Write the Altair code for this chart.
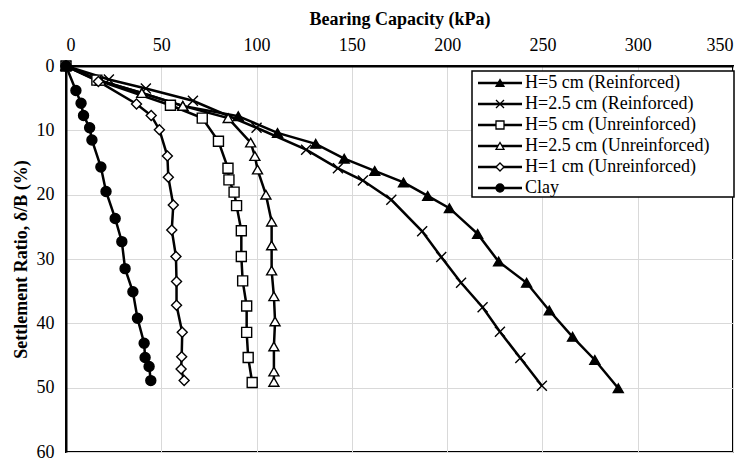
import altair as alt
import pandas as pd

# ---- data ----
series_names = [
    "H=5 cm (Reinforced)",
    "H=2.5 cm (Reinforced)",
    "H=5 cm (Unreinforced)",
    "H=2.5 cm (Unreinforced)",
    "H=1 cm (Unreinforced)",
    "Clay",
]

h5r_x = [0, 18.0, 39.8, 61.3, 90.4, 111.0, 131.0, 146.0, 162.0, 177.1, 189.8, 201.2, 216.0, 227.0, 241.7, 253.6, 265.8, 277.5, 289.8]
h5r_y = [0, 2.3, 4.2, 6.2, 7.8, 10.4, 12.1, 14.4, 16.3, 18.1, 20.2, 22.1, 26.1, 30.4, 33.7, 38.0, 42.1, 45.7, 50.1]

h25r_x = [0, 22.5, 41.9, 66.6, 100.0, 126.0, 142.7, 155.8, 170.7, 186.9, 196.9, 207.3, 218.6, 227.7, 238.4, 249.7]
h25r_y = [0, 2.1, 3.5, 5.4, 9.6, 13.0, 15.9, 17.8, 20.8, 25.7, 29.7, 33.7, 37.5, 41.3, 45.4, 49.7]

h5u_x = [0, 16.2, 54.8, 71.5, 80.0, 85.0, 85.5, 88.2, 89.5, 92.0, 92.0, 92.7, 94.8, 94.8, 95.6, 97.7]
h5u_y = [0, 2.2, 6.1, 8.1, 11.7, 15.9, 17.7, 19.6, 21.7, 25.6, 29.6, 33.4, 37.3, 41.4, 45.3, 49.2]

h25u_x = [0, 18.0, 39.8, 61.3, 85.1, 96.9, 99.1, 100.5, 104.9, 107.9, 107.9, 107.9, 109.1, 109.7, 109.1, 109.1, 109.1]
h25u_y = [0, 2.3, 4.2, 6.2, 8.1, 11.9, 14.0, 16.1, 20.0, 24.2, 27.9, 31.8, 35.8, 39.7, 43.6, 47.5, 49.1]

h1u_x = [0, 17.0, 37.0, 44.7, 49.0, 53.2, 53.7, 56.3, 55.5, 57.7, 58.0, 58.0, 61.0, 60.7, 60.4, 62.0]
h1u_y = [0, 2.4, 5.9, 7.7, 9.9, 14.0, 17.3, 21.6, 25.5, 29.6, 33.5, 37.2, 41.4, 45.2, 47.1, 48.9]

clay_x = [0, 5.2, 7.9, 9.2, 12.4, 13.6, 18.3, 21.0, 25.8, 29.3, 31.0, 35.1, 37.5, 41.0, 41.5, 43.6, 44.5]
clay_y = [0, 3.8, 5.8, 7.7, 9.6, 11.5, 15.7, 19.5, 23.7, 27.3, 31.5, 35.1, 39.2, 43.1, 45.3, 46.7, 48.9]

x_ticks = [0, 50, 100, 150, 200, 250, 300, 350]
y_ticks = [0, 10, 20, 30, 40, 50, 60]

# ---- styling ----
FONT = "'Liberation Serif', 'Times New Roman', Times, serif"
cross_path = "M-1,-1L1,1M-1,1L1,-1"
shape_range = ["triangle-up", cross_path, "square", "triangle-up", "diamond", "circle"]
fill_range = ["black", "white", "white", "white", "white", "black"]

all_x = [h5r_x, h25r_x, h5u_x, h25u_x, h1u_x, clay_x]
all_y = [h5r_y, h25r_y, h5u_y, h25u_y, h1u_y, clay_y]

rows = []
for s, xs, ys in zip(series_names, all_x, all_y):
    for i, (xv, yv) in enumerate(zip(xs, ys)):
        rows.append({"series": s, "q": xv, "r": yv, "idx": i})
df = pd.DataFrame(rows)

x_enc = alt.X("q:Q", scale=alt.Scale(domain=[0, 350], nice=False),
              axis=alt.Axis(orient="top", values=x_ticks, title="Bearing Capacity (kPa)"))
y_enc = alt.Y("r:Q", scale=alt.Scale(domain=[0, 60], reverse=True, nice=False),
              axis=alt.Axis(values=y_ticks, title="Settlement Ratio, δ/B (%)"))

shape_scale = alt.Scale(domain=series_names, range=shape_range)
fill_scale = alt.Scale(domain=series_names, range=fill_range)

base = alt.Chart(df)
lines = base.mark_line(color="black", strokeWidth=2.5).encode(
    x=x_enc, y=y_enc,
    detail="series:N",
    order="idx:Q",
)
points = base.mark_point(filled=False, stroke="black", strokeWidth=1.4, size=100, opacity=1).encode(
    x="q:Q", y="r:Q",
    shape=alt.Shape("series:N", scale=shape_scale, legend=None),
    fill=alt.Fill("series:N", scale=fill_scale, legend=None),
)

# ---- custom legend (pixel positions inside plot area) ----
leg_df = pd.DataFrame({"series": series_names, "row": list(range(len(series_names)))})
leg_base = alt.Chart(leg_df).transform_calculate(py="17 + datum.row * 21")

box = alt.Chart(pd.DataFrame({"a": [0]})).mark_rect(
    fill="white", stroke="black", strokeWidth=1.5
).encode(x=alt.value(406), x2=alt.value(668), y=alt.value(5), y2=alt.value(131))

leg_lines = leg_base.mark_rule(color="black", strokeWidth=2.5).encode(
    x=alt.value(412), x2=alt.value(456),
    y=alt.Y("py:Q", scale=None, axis=None),
)
leg_pts = leg_base.mark_point(filled=False, stroke="black", strokeWidth=1.3, size=64, opacity=1).encode(
    x=alt.value(434),
    y=alt.Y("py:Q", scale=None, axis=None),
    shape=alt.Shape("series:N", scale=shape_scale, legend=None),
    fill=alt.Fill("series:N", scale=fill_scale, legend=None),
)
leg_txt = leg_base.mark_text(align="left", baseline="middle", font=FONT, fontSize=18, color="black").encode(
    x=alt.value(459),
    y=alt.Y("py:Q", scale=None, axis=None),
    text="series:N",
)

chart = alt.layer(lines, points, box, leg_lines, leg_pts, leg_txt).properties(
    width=667, height=386,
    autosize=alt.AutoSizeParams(type="none"),
    padding={"left": 58, "top": 58, "right": 8, "bottom": 12},
).configure(
    font=FONT,
    background="white",
).configure_view(
    stroke="black", strokeWidth=2,
).configure_axis(
    labelFont=FONT, titleFont=FONT,
    labelFontSize=18, titleFontSize=18, titleFontWeight="bold",
    labelColor="black", titleColor="black",
    gridColor="#d9d9d9", gridWidth=1,
    domainColor="black", domainWidth=2,
    ticks=False, tickSize=0,
).configure_axisX(
    labelPadding=12, titlePadding=8,
).configure_axisY(
    labelPadding=12, titlePadding=6,
)

chart.save("out.html", embed_options={"renderer": "svg", "actions": False})
